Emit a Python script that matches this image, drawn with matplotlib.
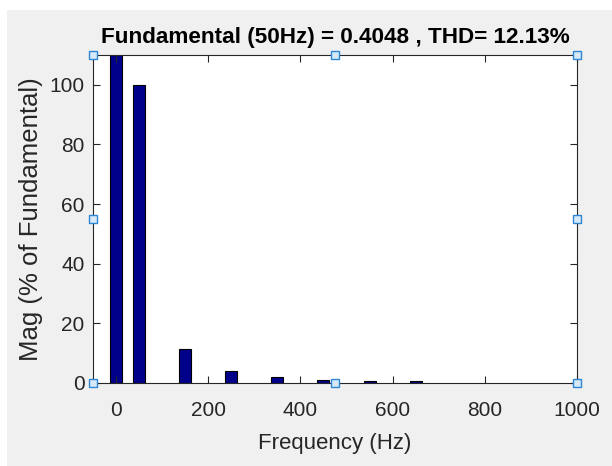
# FFT analysis bar chart (MATLAB style, figure in edit mode)

import matplotlib.pyplot as plt
from matplotlib.patches import Rectangle

freqs = [0, 50, 150, 250, 350, 450, 550, 650]
mags = [125.0, 100.0, 11.3, 4.0, 2.1, 1.1, 0.7, 0.6]
xticks = [0, 200, 400, 600, 800, 1000]
yticks = [0, 20, 40, 60, 80, 100]

title = 'Fundamental (50Hz) = 0.4048 , THD= 12.13%'
xlabel = 'Frequency (Hz)'
ylabel = 'Mag (% of Fundamental)'

plt.rcParams['font.family'] = ['Liberation Sans', 'DejaVu Sans']
text_col = '#262626'

fig = plt.figure(figsize=(6.12, 4.66), dpi=100, facecolor='white')
# gray figure area (screenshot leaves a thin white border top/left)
fig.patches.append(Rectangle((7 / 612, 0.5 / 466), 1 - 7 / 612, 1 - 10.5 / 466,
                             transform=fig.transFigure, facecolor='#f0f0f0',
                             edgecolor='none', zorder=-10))

ax = fig.add_axes([93 / 612, 1 - 383 / 466, (577 - 93) / 612, (383 - 55) / 466])
ax.set_facecolor('white')
ax.bar(freqs, mags, width=26, color='#00008b', edgecolor='black', linewidth=0.8)

ax.set_xlim(-50, 1000)
ax.set_ylim(0, 110)
ax.set_xticks(xticks)
ax.set_yticks(yticks)
ax.tick_params(direction='in', top=True, right=True, length=5, width=0.8,
               colors=text_col, labelsize=15)
ax.tick_params(axis='x', pad=13)
ax.tick_params(axis='y', pad=6)
for s in ax.spines.values():
    s.set_color(text_col)
    s.set_linewidth(0.8)

ax.set_title(title, fontsize=16.2, fontweight='bold', color='black', pad=9)
ax.set_xlabel(xlabel, fontsize=16, color=text_col, labelpad=9)
ax.set_ylabel(ylabel, fontsize=18.5, color=text_col, labelpad=5)

# edit-mode selection handles
hx = [0, 0.5, 1, 0, 1, 0, 0.5, 1]
hy = [1, 1, 1, 0.5, 0.5, 0, 0, 0]
ax.plot(hx, hy, 's', transform=ax.transAxes, clip_on=False, markersize=5.5,
        markerfacecolor='#d5e9f8', markeredgecolor='#2f86d6', markeredgewidth=1,
        linestyle='none', zorder=10)

plt.savefig('out.png', dpi=100)
